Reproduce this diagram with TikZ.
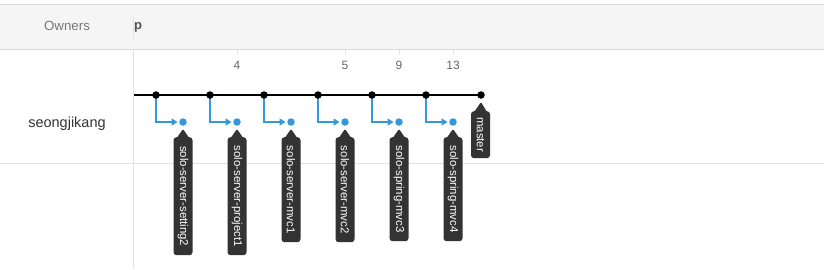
\documentclass[tikz,border=0pt]{standalone}
\usepackage{fontspec}
\setmainfont{Liberation Sans}
\usetikzlibrary{arrows.meta,calc,backgrounds}
\definecolor{hdrfill}{HTML}{F5F5F5}
\definecolor{hdrline}{HTML}{D9D9D9}
\definecolor{gridline}{HTML}{E3E3E3}
\definecolor{branchblue}{HTML}{3498DB}
\definecolor{tagfill}{HTML}{333333}
\definecolor{ownertxt}{HTML}{777777}
\definecolor{nametxt}{HTML}{333333}
\definecolor{numtxt}{HTML}{666666}
\begin{document}
\begin{tikzpicture}[x=1pt,y=-1pt,
  commit/.style={circle,fill=black,inner sep=0pt,minimum size=7.5pt},
  bdot/.style={circle,fill=branchblue,inner sep=0pt,minimum size=7.5pt},
  mainline/.style={draw=black,line width=2pt},
  branchline/.style={draw=branchblue,line width=2pt,-{Triangle[length=6pt,width=7pt]},shorten >=1.5pt},
  tagbox/.style={fill=tagfill,text=white,rounded corners=3pt,rotate=-90,anchor=west,
    minimum height=19pt,inner xsep=0pt,inner ysep=0pt,
    font=\fontsize{11.4}{12}\selectfont},
  pointer/.style={fill=tagfill,rounded corners=1pt},
  numlabel/.style={text=numtxt,font=\fontsize{12}{13}\selectfont,inner sep=0pt},
  tickline/.style={draw=gridline,line width=1pt},
  grid/.style={draw=gridline,line width=1pt}
]
\useasboundingbox (0,0) rectangle (824,269);
% header
\fill[hdrfill] (0,4.5) rectangle (824,49);
\draw[draw=hdrline,line width=1.2pt] (0,4.5) -- (824,4.5);
\draw[draw=hdrline,line width=1.2pt] (0,49.3) -- (824,49.3);
\draw[grid] (133,16) -- (133,38);
\node[text=ownertxt,font=\fontsize{13.3}{14}\selectfont,inner sep=0pt] (owners) at (67,26) {Owners};
\node[text=nametxt!85,font=\fontsize{13}{14}\selectfont\bfseries,inner sep=0pt,anchor=west] (ptxt) at (134,27) {p};
% body grid
\draw[grid] (133,50) -- (133,269);
\draw[grid] (0,163) -- (824,163);
\node[text=nametxt,font=\fontsize{14.5}{16}\selectfont,inner sep=0pt] (owner) at (67,124) {seongjikang};
% numbers with ticks
\foreach \x/\n/\nm in {237/4/n4,345/5/n5,399/9/n9,453/13/n13}{
  \draw[tickline] (\x,50) -- (\x,55);
  \node[numlabel] (\nm) at (\x,65) {\n};
}
% commits on master
\coordinate (lstart) at (133,95);
\node[commit] (c1) at (156,95) {};
\node[commit] (c2) at (210,95) {};
\node[commit] (c3) at (264,95) {};
\node[commit] (c4) at (318,95) {};
\node[commit] (c5) at (372,95) {};
\node[commit] (c6) at (426,95) {};
\node[commit] (c7) at (481,95) {};
\foreach \i/\x in {1/156,2/210,3/264,4/318,5/372,6/426}{
  \pgfmathsetmacro{\bx}{\x+27}
  \node[bdot] (b\i) at (\bx,122) {};
}
\begin{scope}[on background layer]
\draw[mainline] (lstart) -- (c1.center) -- (c2.center) -- (c3.center) -- (c4.center) -- (c5.center) -- (c6.center) -- (c7.center);
\foreach \i in {1,...,6}{
  \draw[branchline] (c\i.center) |- (b\i);
}
\end{scope}
% tags
\foreach \i/\len/\txt in {1/118/solo-server-setting2,2/118/solo-server-project1,3/105/solo-server-mvc1,4/105/solo-server-mvc2,5/104/solo-spring-mvc3,6/104/solo-spring-mvc4}{
  \node[tagbox,minimum width=\len pt] (t\i) at ($(b\i)+(0,15)$) {\txt};
  \fill[pointer] ($(t\i.west)+(-7,2)$) -- ($(b\i)+(0,7)$) -- ($(t\i.west)+(7,2)$) -- cycle;
}
\node[tagbox,minimum width=47pt] (tm) at ($(c7)+(-0.5,16)$) {master};
\fill[pointer] ($(tm.west)+(-7,2)$) -- ($(c7)+(0,7)$) -- ($(tm.west)+(7,2)$) -- cycle;
\end{tikzpicture}
\end{document}
